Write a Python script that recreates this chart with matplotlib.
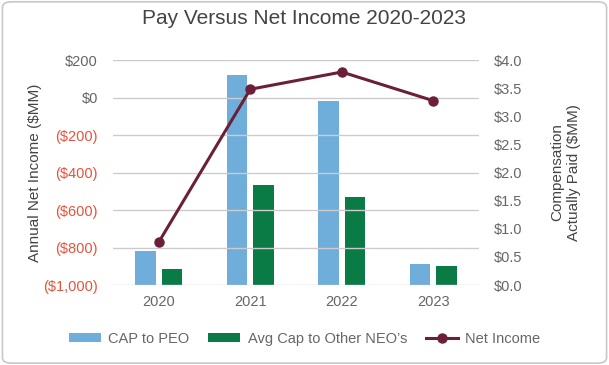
import matplotlib.pyplot as plt
import numpy as np
from matplotlib.patches import FancyBboxPatch

plt.rcParams['font.family'] = ['Liberation Sans', 'DejaVu Sans']

years = ['2020', '2021', '2022', '2023']
cap_peo = [0.61, 3.73, 3.27, 0.38]
cap_neo = [0.28, 1.77, 1.56, 0.34]
net_income = [-771, 44, 136, -17]

left_ticks = [200, 0, -200, -400, -600, -800, -1000]
left_labels = ['$200', '$0', '($200)', '($400)', '($600)', '($800)', '($1,000)']
right_ticks = [0.0, 0.5, 1.0, 1.5, 2.0, 2.5, 3.0, 3.5, 4.0]
right_labels = ['$%.1f' % v for v in right_ticks]

blue = '#6FAEDB'
green = '#0A7B45'
maroon = '#6B1F38'
gray = '#666666'
red = '#E5533D'

fig = plt.figure(figsize=(6.09, 3.65), dpi=100)
fig.patches.append(FancyBboxPatch((0.004, 0.005), 0.992, 0.99, boxstyle='round,pad=0,rounding_size=0.015',
                                  transform=fig.transFigure, fill=False, edgecolor='#c8c8c8', linewidth=1.2))

ax = fig.add_axes([0.1856, 0.219, 0.601, 0.6166])
ax2 = ax.twinx()

x = np.arange(len(years))
w = 0.22
ax2.bar(x - 0.145, cap_peo, w, color=blue, label='CAP to PEO')
ax2.bar(x + 0.145, cap_neo, w, color=green, label='Avg Cap to Other NEO\u2019s')
ax2.set_ylim(0, 4.0)
ax2.set_yticks(right_ticks)
ax2.set_yticklabels(right_labels)

ax.plot(x, net_income, color=maroon, linewidth=2.2, marker='o', markersize=6.5, label='Net Income')
ax.set_ylim(-1000, 200)
ax.set_yticks(left_ticks)
ax.set_yticklabels(left_labels)
ax.set_xlim(-0.5, 3.5)
ax.set_xticks(x)
ax.set_xticklabels(years)
ax.grid(axis='y', color='#cccccc', linewidth=1)
ax.set_axisbelow(True)

ax.set_zorder(ax2.get_zorder() + 1)
ax.patch.set_visible(False)

for a in (ax, ax2):
    for s in a.spines.values():
        s.set_visible(False)
    a.tick_params(length=0, labelsize=10.5, colors=gray)
for lbl, v in zip(ax.get_yticklabels(), left_ticks):
    lbl.set_color(red if v < 0 else gray)
ax.tick_params(axis='y', pad=11)
ax.tick_params(axis='x', pad=7)
ax2.tick_params(axis='y', pad=11)

ax.set_ylabel('Annual Net Income ($MM)', fontsize=11, color='#444444', labelpad=1)
ax2.set_ylabel('Compensation\nActually Paid ($MM)', fontsize=11, color='#444444', labelpad=20)

fig.suptitle('Pay Versus Net Income 2020-2023', fontsize=15, color='#444444', y=0.975)

h1, l1 = ax2.get_legend_handles_labels()
h2, l2 = ax.get_legend_handles_labels()
fig.legend(h1 + h2, l1 + l2, loc='center', bbox_to_anchor=(0.5, 0.072), ncol=3, frameon=False,
           fontsize=10.5, labelcolor=gray, handlelength=2.2, handleheight=0.6, columnspacing=1.3,
           handletextpad=0.5)

fig.savefig('out.png', dpi=100)
